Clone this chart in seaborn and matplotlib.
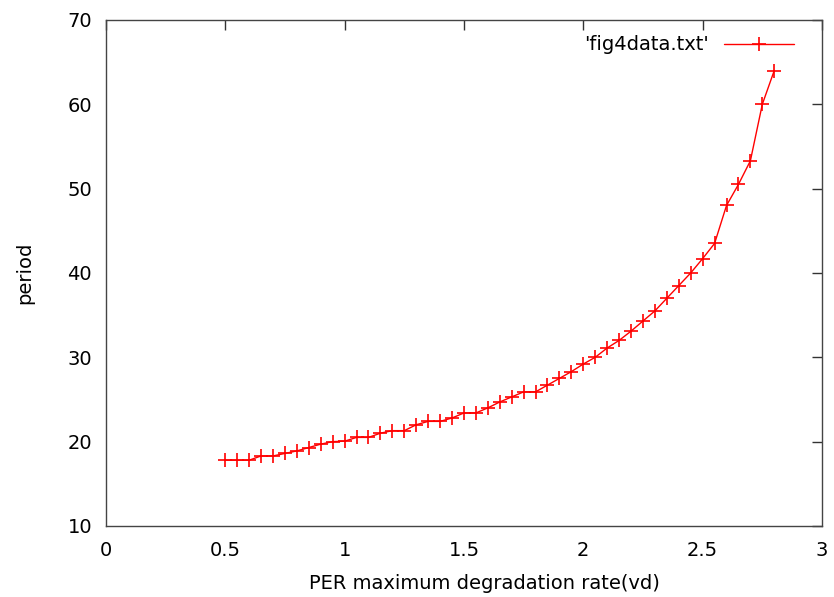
import matplotlib

matplotlib.use("Agg")
import matplotlib.pyplot as plt
import seaborn as sns

# PER maximum degradation rate (vd) and period
vd = [0.5, 0.55, 0.6, 0.65, 0.7, 0.75, 0.8, 0.85, 0.9, 0.95,
      1.0, 1.05, 1.1, 1.15, 1.2, 1.25, 1.3, 1.35, 1.4, 1.45,
      1.5, 1.55, 1.6, 1.65, 1.7, 1.75, 1.8, 1.85, 1.9, 1.95,
      2.0, 2.05, 2.1, 2.15, 2.2, 2.25, 2.3, 2.35, 2.4, 2.45,
      2.5, 2.55, 2.6, 2.65, 2.7, 2.75, 2.8]
period = [17.8, 17.8, 17.8, 18.3, 18.3, 18.6, 18.9, 19.3, 19.7, 20.0,
          20.05, 20.5, 20.5, 21.0, 21.3, 21.3, 22.0, 22.4, 22.4, 22.8,
          23.4, 23.4, 24.0, 24.7, 25.3, 25.9, 25.9, 26.7, 27.5, 28.3,
          29.2, 30.0, 31.1, 32.0, 33.1, 34.3, 35.5, 37.0, 38.5, 40.0,
          41.7, 43.5, 48.0, 50.5, 53.3, 60.0, 64.0]
series_label = "'fig4data.txt'"

sns.set_style("white")
plt.rcParams["font.family"] = ["DejaVu Sans"]
plt.rcParams["text.color"] = "black"
fs = 14

fig = plt.figure(figsize=(8.34, 5.97), dpi=100)
ax = fig.add_axes([0.127, 0.119, 0.8586, 0.8476])

sns.lineplot(x=vd, y=period, ax=ax, color="red", linewidth=1,
             marker="+", markersize=10, markeredgewidth=1.2,
             markeredgecolor="red", label=series_label)

ax.set_xlim(0, 3)
ax.set_ylim(10, 70)
ax.set_xticks([0, 0.5, 1, 1.5, 2, 2.5, 3])
ax.set_xticklabels(["0", "0.5", "1", "1.5", "2", "2.5", "3"])
ax.set_yticks(range(10, 71, 10))

ax.tick_params(direction="in", length=7, width=1, colors="#333333",
               labelcolor="black", labelsize=fs, top=True, right=True)
ax.tick_params(axis="x", pad=11)
ax.tick_params(axis="y", pad=10)
for side in ax.spines.values():
    side.set_color("#444444")
    side.set_linewidth(1)

ax.set_xlabel("PER maximum degradation rate(vd)", fontsize=fs, labelpad=9,
              color="black")
ax.xaxis.set_label_coords(0.529, -0.095)
ax.set_ylabel("period", fontsize=fs, labelpad=24, color="black")

leg = ax.legend(loc="upper right", frameon=False, markerfirst=False,
                fontsize=fs, handlelength=3.6, handletextpad=0.8,
                bbox_to_anchor=(0.986, 1.004))
for t in leg.get_texts():
    t.set_color("black")

fig.savefig("out.png", dpi=100)
